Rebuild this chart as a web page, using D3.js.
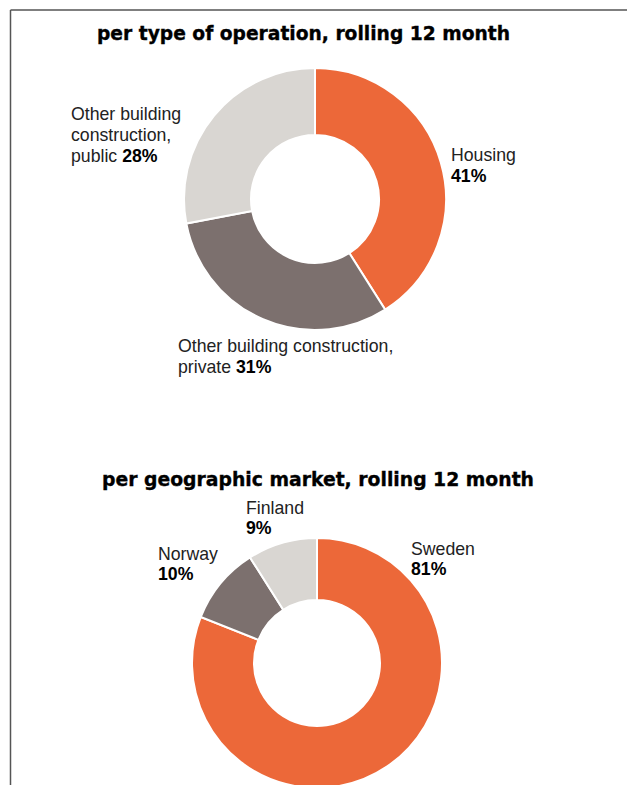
<!DOCTYPE html>
<html lang="en">
<head>
    <meta charset="UTF-8">
    <title>Order intake per type of operation and market</title>
    <style>
        body { margin: 0; background: #fff; }
        svg { display: block; }
        .title { font-family: "DejaVu Sans", sans-serif; font-weight: bold; font-size: 18.8px; fill: #000; stroke: #000; stroke-width: 0.35px; }
        .label { font-family: "Liberation Sans", Arial, sans-serif; font-size: 17.7px; fill: #222; }
        .label .pct { font-weight: bold; fill: #000; }
        .slice { stroke: #fff; stroke-width: 2px; }
    </style>
</head>
<body>
<svg id="chart" width="627" height="785"></svg>
<script src="https://d3js.org/d3.v7.min.js"></script>
<script>
    // data
    const opCategories = ["Housing", "Other building construction, private", "Other building construction, public"];
    const opShares = [41, 31, 28];
    const opLabelLines = [["Housing"], ["Other building construction,", "private"], ["Other building", "construction,", "public"]];

    const marketCategories = ["Sweden", "Norway", "Finland"];
    const marketShares = [81, 10, 9];
    const marketLabelLines = [["Sweden"], ["Norway"], ["Finland"]];

    const sliceColors = ["#EC6839", "#7C706E", "#D9D6D2"];

    const svg = d3.select("#chart");

    // frame lines (top and left)
    svg.append("line").attr("x1", 10.5).attr("y1", 10).attr("x2", 627).attr("y2", 10)
        .attr("stroke", "#555").attr("stroke-width", 1.5);
    svg.append("line").attr("x1", 10.5).attr("y1", 10).attr("x2", 10.5).attr("y2", 785)
        .attr("stroke", "#555").attr("stroke-width", 1.5);

    const pie = d3.pie().sort(null).value(d => d.value);
    const color = d3.scaleOrdinal().range(sliceColors);

    function donut(opts) {
        const data = opts.categories.map((c, i) => ({name: c, value: opts.values[i], lines: opts.lines[i]}));
        color.domain(opts.categories);

        svg.append("text")
            .attr("class", "title")
            .attr("x", opts.titleX)
            .attr("y", opts.titleY)
            .attr("textLength", opts.titleW)
            .attr("lengthAdjust", "spacingAndGlyphs")
            .text(opts.title);

        const arc = d3.arc().innerRadius(opts.inner).outerRadius(opts.outer);
        const g = svg.append("g").attr("transform", `translate(${opts.cx},${opts.cy})`);
        g.selectAll("path")
            .data(pie(data))
            .enter().append("path")
            .attr("class", "slice")
            .attr("d", arc)
            .attr("fill", d => color(d.data.name));

        // labels
        data.forEach((d, i) => {
            const pos = opts.labelPos[i];
            const t = svg.append("text").attr("class", "label").attr("x", pos.x).attr("y", pos.y);
            const lines = d.lines.slice();
            if (pos.pctOwnLine) lines.push("");
            lines.forEach((ln, j) => {
                const ts = t.append("tspan").attr("x", pos.x).attr("dy", j === 0 ? 0 : opts.lineH);
                if (j === lines.length - 1) {
                    if (ln) ts.append("tspan").text(ln + " ");
                    ts.append("tspan").attr("class", "pct").text(d.value + "%");
                } else {
                    ts.text(ln);
                }
            });
        });
    }

    donut({
        title: "per type of operation, rolling 12 month",
        titleX: 97, titleY: 40, titleW: 413,
        categories: opCategories, values: opShares, lines: opLabelLines,
        cx: 315, cy: 199, outer: 131, inner: 64,
        lineH: 21,
        labelPos: [
            {x: 451, y: 161, pctOwnLine: true},
            {x: 178, y: 352},
            {x: 71, y: 120}
        ]
    });

    donut({
        title: "per geographic market, rolling 12 month",
        titleX: 102, titleY: 486, titleW: 432,
        categories: marketCategories, values: marketShares, lines: marketLabelLines,
        cx: 317, cy: 663, outer: 125, inner: 63,
        lineH: 20,
        labelPos: [
            {x: 411, y: 555, pctOwnLine: true},
            {x: 158, y: 560, pctOwnLine: true},
            {x: 246, y: 514, pctOwnLine: true}
        ]
    });
</script>
</body>
</html>
